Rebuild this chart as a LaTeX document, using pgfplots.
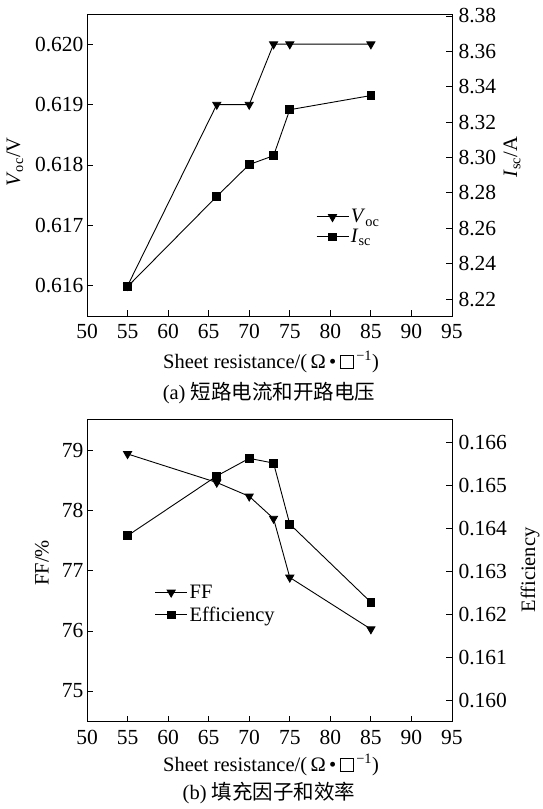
\documentclass[border=0pt]{standalone}
\usepackage{fontspec}
\setmainfont{Liberation Serif}
\newfontfamily\cjk{Noto Sans CJK SC}
\usepackage{pgfplots}
\pgfplotsset{compat=1.18}
\newcommand\sq{{\setlength{\fboxsep}{0pt}\setlength{\fboxrule}{0.7pt}\fbox{\rule{0pt}{0.62em}\hspace{0.62em}}}}
\newcommand\fs{\fontsize{20.5}{23}\selectfont}
\newcommand\ft{\fontsize{21.5}{24}\selectfont}
\pgfplotsset{
  base/.style={scale only axis, width=365pt, height=302pt, xmin=50, xmax=95,
    anchor=south west, tick align=inside, major tick length=6pt,
    tick style={black, line width=0.8pt}, axis line style={line width=0.9pt},
    tick label style={font=\ft}, font=\fs,
    xticklabel style={yshift=-5pt},
    every axis plot/.append style={black, line width=0.9pt, mark options={solid, fill=black}},
    legend style={draw=none, fill=none, font=\fs, row sep=1pt, inner sep=0pt},
    legend cell align=left,
    legend image code/.code={\draw[mark repeat=2,mark phase=2] plot coordinates {(0pt,0pt) (16pt,0pt) (32pt,0pt)};},
  },
  tri/.style={mark=triangle*, mark size=4.6pt, mark options={rotate=180, fill=black}},
  sqm/.style={mark=square*, mark size=3.9pt, mark options={fill=black}},
}
\begin{document}
\begin{tikzpicture}
% ---------- (a) ----------
\begin{axis}[base, at={(87pt,493pt)},
  ymin=0.6155, ymax=0.6205,
  xtick={50,55,...,95}, xticklabels={50,55,60,65,70,75,80,85,90,95},
  ytick={0.616,0.617,0.618,0.619,0.620}, yticklabels={0.616,0.617,0.618,0.619,0.620},
  xtick pos=bottom, ytick pos=left]
\addplot[tri] coordinates {(55,0.616) (66,0.619) (70,0.619) (73,0.620) (75,0.620) (85,0.620)};
\end{axis}
\begin{axis}[base, at={(87pt,493pt)},
  ymin=8.2104, ymax=8.3811, axis x line=none, axis y line*=right, ytick pos=right,
  yticklabel style={xshift=3pt},
  ytick={8.22,8.24,8.26,8.28,8.30,8.32,8.34,8.36,8.38},
  yticklabels={8.22,8.24,8.26,8.28,8.30,8.32,8.34,8.36,8.38},
  legend style={at={(rel axis cs:0.627,0.36)}, anchor=north west}]
\addlegendimage{black, line width=0.9pt, tri}
\addlegendentry{\textit{V}\textsubscript{oc}}
\addplot[sqm] coordinates {(55,8.227) (66,8.278) (70,8.296) (73,8.301) (75,8.327) (85,8.335)};
\addlegendentry{\textit{I}\textsubscript{sc}}
\end{axis}
% ---------- (b) ----------
\begin{axis}[base, at={(87pt,87.3pt)},
  ymin=74.49, ymax=79.515,
  xtick={50,55,...,95}, xticklabels={50,55,60,65,70,75,80,85,90,95},
  ytick={75,76,77,78,79}, yticklabels={75,76,77,78,79},
  xtick pos=bottom, ytick pos=left]
\addplot[tri] coordinates {(55,78.945) (66,78.47) (70,78.24) (73,77.87) (75,76.89) (85,76.03)};
\end{axis}
\begin{axis}[base, at={(87pt,87.3pt)},
  ymin=0.1595, ymax=0.16653, axis x line=none, axis y line*=right, ytick pos=right,
  yticklabel style={xshift=3pt},
  ytick={0.160,0.161,0.162,0.163,0.164,0.165,0.166},
  yticklabels={0.160,0.161,0.162,0.163,0.164,0.165,0.166},
  legend style={at={(rel axis cs:0.185,0.46)}, anchor=north west, row sep=3pt}]
\addlegendimage{black, line width=0.9pt, tri}
\addlegendentry{FF}
\addplot[sqm] coordinates {(55,0.16383) (66,0.16522) (70,0.16563) (73,0.16552) (75,0.16410) (85,0.16228)};
\addlegendentry{Efficiency}
\end{axis}
% ---------- labels ----------
\node[font=\fs, rotate=90] at (15pt,647pt) {\textit{V}\textsubscript{oc}/V};
\node[font=\fs, rotate=90] at (512pt,652pt) {\textit{I}\textsubscript{sc}/A};
\node[font=\fs] at (271pt,447pt) {Sheet resistance/(\,Ω\,•\,\sq\textsuperscript{\,−1})};
\node[font=\fs] at (269pt,416pt) {(a) {\cjk 短路电流和开路电压}};
\node[font=\fs, rotate=90] at (42pt,246pt) {FF/\%};
\node[font=\fs, rotate=90] at (530pt,239pt) {Efficiency};
\node[font=\fs] at (271pt,44pt) {Sheet resistance/(\,Ω\,•\,\sq\textsuperscript{\,−1})};
\node[font=\fs] at (269pt,16pt) {(b) {\cjk 填充因子和效率}};
\pgfresetboundingbox
\path (0pt,0pt) rectangle (542pt,809pt);
\end{tikzpicture}
\end{document}
